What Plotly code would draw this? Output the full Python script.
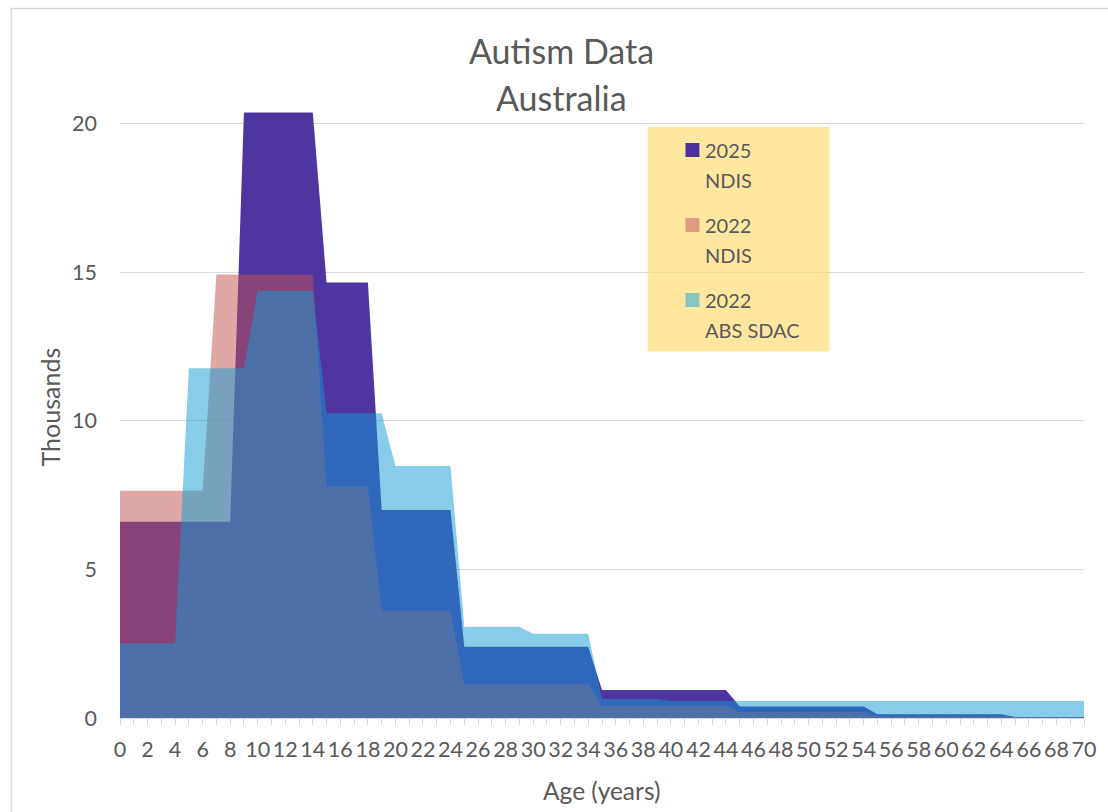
import plotly.graph_objects as go

# ---------------- data (thousands of people, by single year of age) ----------------
ages = list(range(0, 71))
ndis_2025 = [6.61]*9 + [20.38]*6 + [14.66]*4 + [7.00]*6 + [2.40]*10 + [0.94]*10 + [0.39]*10 + [0.13]*10 + [0.03]*6
ndis_2022 = [7.65]*7 + [14.93]*8 + [7.79]*4 + [3.61]*6 + [1.14]*10 + [0.40]*10 + [0.20]*10 + [0.06]*10 + [0.03]*6
abs_sdac_2022 = [2.52]*5 + [11.77]*5 + [14.38]*5 + [10.26]*5 + [8.48]*5 + [3.07]*5 + [2.84]*5 + [0.64]*5 + [0.57]*31

series_names = ["2025<br>NDIS", "2022<br>NDIS", "2022<br>ABS SDAC"]
fill_colors = ["#4F35A0", "rgba(191,81,79,0.5)", "rgba(15,155,211,0.5)"]
legend_colors = ["#4B31A0", "#DE9B7F", "#86C5C1"]

title_lines = ["Autism Data", "Australia"]
x_title = "Age (years)"
y_title = "Thousands"

FONT = "Lato, Carlito, Calibri, sans-serif"
TXT = "#595959"
GRID = "#D9D9D9"

W, H = 1108, 812
L, R, T, B = 120, 18, 109, 94
PW, PH = W - L - R, H - T - B


def fx(px):
    return (px - L) / PW


def fy(py):
    return (H - B - py) / PH


fig = go.Figure()
for name, ys, fc in zip(series_names, [ndis_2025, ndis_2022, abs_sdac_2022], fill_colors):
    fig.add_trace(go.Scatter(
        x=ages, y=ys, mode="lines", name=name, fill="tozeroy",
        fillcolor=fc, line=dict(width=0, color=fc), showlegend=False,
        hoverinfo="x+y+name",
    ))

shapes = []
annotations = []

# outer chart border
shapes.append(dict(type="rect", xref="paper", yref="paper",
                   x0=fx(10.5), x1=fx(1125), y0=fy(830), y1=fy(8.5),
                   line=dict(color=GRID, width=1.3), fillcolor="rgba(0,0,0,0)", layer="below"))

# legend box
shapes.append(dict(type="rect", xref="paper", yref="paper",
                   x0=fx(651), x1=fx(834), y0=fy(351.5), y1=fy(126.7),
                   line=dict(width=0), fillcolor="rgba(255,217,102,0.62)", layer="above"))
legend_rows = [150, 225, 300]
for name, col, yc in zip(series_names, legend_colors, legend_rows):
    shapes.append(dict(type="rect", xref="paper", yref="paper",
                       x0=fx(689), x1=fx(703), y0=fy(yc + 7), y1=fy(yc - 7),
                       line=dict(width=0), fillcolor=col, layer="above"))
    l1, l2 = name.split("<br>")
    for txt, yy in [(l1, yc), (l2, yc + 29.5)]:
        annotations.append(dict(xref="paper", yref="paper", x=fx(707), y=fy(yy),
                                xanchor="left", yanchor="middle", showarrow=False,
                                text=txt, font=dict(family=FONT, size=20, color=TXT)))

# title
for txt, yy in zip(title_lines, [51, 98]):
    annotations.append(dict(xref="paper", yref="paper", x=fx(564.5), y=fy(yy),
                            xanchor="center", yanchor="middle", showarrow=False,
                            text=txt, font=dict(family=FONT, size=34, color=TXT, weight=400)))

# axis titles
annotations.append(dict(xref="paper", yref="paper", x=fx(605), y=fy(790),
                        xanchor="center", yanchor="middle", showarrow=False,
                        text=x_title, font=dict(family=FONT, size=24.5, color=TXT)))
annotations.append(dict(xref="paper", yref="paper", x=fx(50), y=fy(407),
                        xanchor="center", yanchor="middle", showarrow=False, textangle=-90,
                        text=y_title, font=dict(family=FONT, size=25, color=TXT)))

fig.update_layout(
    width=W, height=H,
    margin=dict(l=L, r=R, t=T, b=B, pad=0),
    paper_bgcolor="white", plot_bgcolor="white",
    font=dict(family=FONT, color=TXT),
    shapes=shapes, annotations=annotations,
    xaxis=dict(range=[0, 70], tickmode="linear", tick0=0, dtick=2,
               ticks="outside", ticklen=6, tickcolor=GRID, tickwidth=1.3,
               minor=dict(dtick=1, ticks="outside", ticklen=6, tickcolor=GRID, tickwidth=1.3),
               showline=True, linecolor=GRID, linewidth=1.3,
               showgrid=False, zeroline=False, ticklabelstandoff=6,
               tickfont=dict(family=FONT, size=21.5, color=TXT)),
    yaxis=dict(range=[0, 20.5], tickmode="linear", tick0=0, dtick=5,
               showgrid=True, gridcolor=GRID, gridwidth=1.3,
               showline=False, zeroline=False, ticks="", ticklabelstandoff=22,
               tickfont=dict(family=FONT, size=21.5, color=TXT)),
    showlegend=False,
)

fig.write_html("out.html")
